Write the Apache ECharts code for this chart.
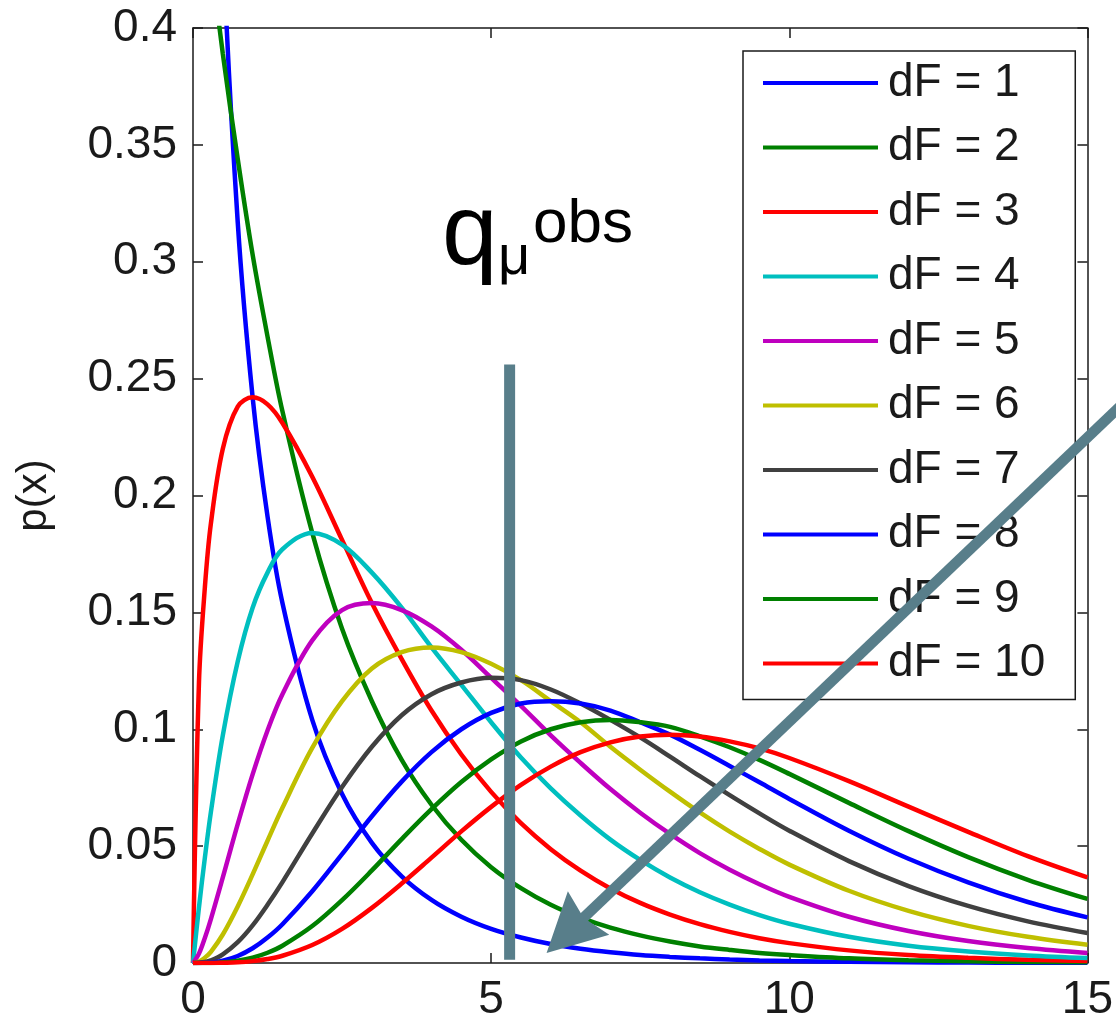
<!DOCTYPE html>
<html>
<head>
<meta charset="utf-8">
<script src="https://cdn.jsdelivr.net/npm/echarts@6/dist/echarts.min.js"></script>
<style>
  html, body { margin: 0; padding: 0; background: #fff; }
  #chart { width: 1116px; height: 1023px; }
</style>
</head>
<body>
<div id="chart"></div>
<script>
// Chi-square densities p(x) for 1..10 degrees of freedom
const xs = [0, 0.1, 0.2, 0.3, 0.5, 0.75, 1, 1.25, 1.5, 2, 2.5, 3, 3.5, 4, 4.5, 5, 5.5, 6, 6.5, 7, 7.5, 8, 8.5, 9, 9.5, 10, 11, 12, 13, 14, 15];

const dF1 = [null, 1.200, 0.807, 0.627, 0.439, 0.317, 0.242, 0.191, 0.154, 0.104, 0.0723, 0.0514, 0.0371, 0.0270, 0.0198, 0.0146, 0.0109, 0.0081, 0.0061, 0.0046, 0.0034, 0.0026, 0.0020, 0.0015, 0.0011, 0.00085, 0.0005, 0.0003, 0.00017, 0.0001, 0.00006];
const dF2 = [0.500, 0.476, 0.452, 0.430, 0.389, 0.344, 0.303, 0.268, 0.236, 0.184, 0.143, 0.112, 0.0869, 0.0677, 0.0527, 0.0410, 0.0320, 0.0249, 0.0194, 0.0151, 0.0118, 0.0092, 0.0071, 0.0056, 0.0043, 0.0034, 0.0020, 0.0012, 0.00075, 0.00046, 0.00028];
const dF3 = [0, 0.120, 0.161, 0.188, 0.220, 0.238, 0.242, 0.239, 0.231, 0.208, 0.181, 0.154, 0.130, 0.108, 0.0892, 0.0732, 0.0598, 0.0487, 0.0395, 0.0319, 0.0257, 0.0207, 0.0166, 0.0133, 0.0106, 0.0085, 0.0054, 0.0034, 0.0022, 0.0014, 0.0009];
const dF4 = [0, 0.0238, 0.0452, 0.0646, 0.0974, 0.129, 0.152, 0.167, 0.177, 0.184, 0.179, 0.167, 0.152, 0.135, 0.119, 0.103, 0.0879, 0.0747, 0.0631, 0.0528, 0.0441, 0.0366, 0.0303, 0.0250, 0.0205, 0.0168, 0.0112, 0.0074, 0.0049, 0.0032, 0.0021];
const dF5 = [0, 0.0040, 0.0108, 0.0188, 0.0366, 0.0594, 0.0807, 0.0995, 0.115, 0.138, 0.151, 0.154, 0.151, 0.144, 0.134, 0.122, 0.110, 0.0974, 0.0856, 0.0744, 0.0643, 0.0552, 0.0470, 0.0399, 0.0337, 0.0283, 0.0198, 0.0137, 0.0094, 0.0064, 0.0043];
const dF6 = [0, 0.0006, 0.0023, 0.0048, 0.0122, 0.0242, 0.0379, 0.0523, 0.0664, 0.0920, 0.112, 0.126, 0.133, 0.135, 0.133, 0.128, 0.121, 0.112, 0.103, 0.0925, 0.0827, 0.0733, 0.0644, 0.0562, 0.0488, 0.0421, 0.0309, 0.0223, 0.0159, 0.0112, 0.0078];
const dF7 = [0, 0.0001, 0.0004, 0.0011, 0.0037, 0.0089, 0.0161, 0.0249, 0.0346, 0.0554, 0.0753, 0.0925, 0.106, 0.115, 0.120, 0.122, 0.121, 0.117, 0.111, 0.104, 0.0965, 0.0883, 0.0799, 0.0718, 0.0640, 0.0566, 0.0436, 0.0329, 0.0244, 0.0178, 0.0128];
const dF8 = [0, 0, 0.0001, 0.0002, 0.0010, 0.0030, 0.0063, 0.0109, 0.0166, 0.0307, 0.0466, 0.0628, 0.0776, 0.0902, 0.100, 0.107, 0.111, 0.112, 0.111, 0.108, 0.103, 0.0977, 0.0912, 0.0843, 0.0773, 0.0702, 0.0566, 0.0446, 0.0345, 0.0261, 0.0195];
const dF9 = [0, 0, 0, 0, 0.0003, 0.0010, 0.0023, 0.0044, 0.0074, 0.0158, 0.0269, 0.0396, 0.0530, 0.0658, 0.0774, 0.0871, 0.0948, 0.100, 0.103, 0.104, 0.103, 0.101, 0.0970, 0.0923, 0.0869, 0.0809, 0.0685, 0.0564, 0.0453, 0.0356, 0.0274];
const dF10 = [0, 0, 0, 0, 0.0001, 0.0003, 0.0008, 0.0017, 0.0031, 0.0077, 0.0146, 0.0236, 0.0340, 0.0451, 0.0563, 0.0668, 0.0762, 0.0840, 0.0902, 0.0944, 0.0969, 0.0977, 0.0969, 0.0948, 0.0918, 0.0877, 0.0778, 0.0669, 0.0561, 0.0457, 0.0366];

const seriesNames = ['dF = 1', 'dF = 2', 'dF = 3', 'dF = 4', 'dF = 5', 'dF = 6', 'dF = 7', 'dF = 8', 'dF = 9', 'dF = 10'];
const curves = [dF1, dF2, dF3, dF4, dF5, dF6, dF7, dF8, dF9, dF10];
const lineColors = ['#0000ff', '#008000', '#ff0000', '#00bfbf', '#bf00bf', '#bfbf00', '#404040', '#0000ff', '#008000', '#ff0000'];

// Observed test statistic marker and pointer arrow, in data units
const obsLine = [[5.31, 0.256], [5.31, 0.0014]];
const arrowFrom = [15.85, 0.2455];
const arrowTo = [5.93, 0.0043];

const FONT = "'Liberation Sans', Arial, Helvetica, sans-serif";
const INK = '#1a1a1a';
const NOTE_COLOR = '#587e8a';

const chart = echarts.init(document.getElementById('chart'), null, { renderer: 'canvas' });

const axisLine = { show: true, onZero: false, lineStyle: { color: INK, width: 1.5 } };
const axisTick = { show: true, inside: true, length: 10, lineStyle: { color: INK, width: 1.5 } };

const series = curves.map((ys, i) => ({
  name: seriesNames[i],
  type: 'line',
  xAxisIndex: 0,
  yAxisIndex: 0,
  data: xs.map((x, j) => [x, ys[j]]).filter(p => p[1] !== null),
  symbol: 'none',
  showSymbol: false,
  smooth: 0.35,
  clip: true,
  lineStyle: { color: lineColors[i], width: 4.5 },
  itemStyle: { color: lineColors[i] },
  emphasis: { disabled: true }
}));

chart.setOption({
  animation: false,
  backgroundColor: '#fff',
  grid: { left: 193, right: 27, top: 28, bottom: 58, containLabel: false },
  xAxis: [
    {
      type: 'value', min: 0, max: 15, interval: 5, position: 'bottom',
      axisLine, axisTick,
      axisLabel: { fontSize: 46, fontFamily: FONT, color: INK, margin: 14 },
      splitLine: { show: false }
    },
    {
      type: 'value', min: 0, max: 15, interval: 5, position: 'top',
      axisLine, axisTick,
      axisLabel: { show: false },
      splitLine: { show: false }
    }
  ],
  yAxis: [
    {
      type: 'value', min: 0, max: 0.4, interval: 0.05, position: 'left',
      axisLine, axisTick,
      axisLabel: { fontSize: 46, fontFamily: FONT, color: INK, margin: 16 },
      splitLine: { show: false },
      name: 'p(x)', nameLocation: 'middle', nameRotate: 90, nameGap: 138,
      nameTextStyle: { fontSize: 42, fontFamily: FONT, color: INK }
    },
    {
      type: 'value', min: 0, max: 0.4, interval: 0.05, position: 'right',
      axisLine, axisTick,
      axisLabel: { show: false },
      splitLine: { show: false }
    }
  ],
  legend: {
    data: seriesNames,
    orient: 'vertical',
    left: 743,
    top: 51,
    padding: [9, 30, 13, 20],
    icon: 'rect',
    itemWidth: 115,
    itemHeight: 4,
    itemGap: 18.5,
    backgroundColor: '#fff',
    borderColor: INK,
    borderWidth: 1.5,
    borderRadius: 0,
    selectedMode: false,
    textStyle: { fontSize: 46, fontFamily: FONT, color: INK, lineHeight: 46, padding: [0, 0, 0, 5] }
  },
  series
});

// Annotation: vertical marker at the observed value, its label, and the arrow
function drawNotes() {
  const px = v => chart.convertToPixel({ xAxisIndex: 0, yAxisIndex: 0 }, v);
  const a = px(obsLine[0]);
  const b = px(obsLine[1]);
  const s = px(arrowFrom);
  const t = px(arrowTo);
  const dx = t[0] - s[0], dy = t[1] - s[1];
  const len = Math.hypot(dx, dy);
  const ux = dx / len, uy = dy / len;
  const nx = -uy, ny = ux;
  const headLen = 58, halfW = 30, notch = 7;
  const back = [t[0] - ux * headLen, t[1] - uy * headLen];
  const neck = [t[0] - ux * (headLen - notch), t[1] - uy * (headLen - notch)];

  chart.setOption({
    graphic: [
      {
        type: 'line', z: 100, silent: true,
        shape: { x1: a[0], y1: a[1], x2: b[0], y2: b[1] },
        style: { stroke: NOTE_COLOR, lineWidth: 11 }
      },
      {
        type: 'line', z: 100, silent: true,
        shape: { x1: s[0], y1: s[1], x2: neck[0] + ux * 3, y2: neck[1] + uy * 3 },
        style: { stroke: NOTE_COLOR, lineWidth: 10.5 }
      },
      {
        type: 'polygon', z: 100, silent: true,
        shape: { points: [t, [back[0] + nx * halfW, back[1] + ny * halfW], neck, [back[0] - nx * halfW, back[1] - ny * halfW]] },
        style: { fill: NOTE_COLOR }
      },
      {
        type: 'text', z: 100, silent: true, x: 442, y: 236,
        style: { text: 'q', fontSize: 100, fontFamily: FONT, fill: '#000', verticalAlign: 'middle', align: 'left' }
      },
      {
        type: 'text', z: 100, silent: true, x: 498, y: 259,
        style: { text: 'μ', fontSize: 56, fontFamily: FONT, fill: '#000', verticalAlign: 'middle', align: 'left' }
      },
      {
        type: 'text', z: 100, silent: true, x: 533, y: 225,
        style: { text: 'obs', fontSize: 62, fontFamily: FONT, fill: '#000', verticalAlign: 'middle', align: 'left' }
      }
    ]
  });
}
drawNotes();
</script>
</body>
</html>
